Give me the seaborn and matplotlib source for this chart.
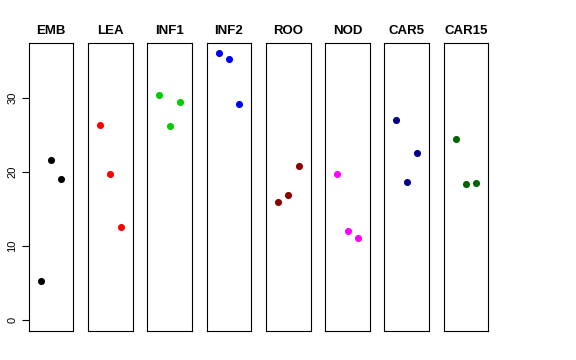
"""
Per-tissue expression strip panels (3 replicates each).
"""

import matplotlib
matplotlib.use("Agg")
import matplotlib.pyplot as plt
import seaborn as sns
import pandas as pd

# Data
tissues = ["EMB", "LEA", "INF1", "INF2", "ROO", "NOD", "CAR5", "CAR15"]
replicate = [1, 2, 3]
rep_values = [
    [5.35, 21.6, 19.0],    # EMB
    [26.4, 19.75, 12.6],   # LEA
    [30.4, 26.15, 29.5],   # INF1
    [36.0, 35.3, 29.15],   # INF2
    [15.9, 16.95, 20.8],   # ROO
    [19.75, 12.1, 11.15],  # NOD
    [27.05, 18.6, 22.5],   # CAR5
    [24.4, 18.4, 18.55],   # CAR15
]
colors = ["black", "red", "#00CD00", "blue", "#8B0000", "magenta", "#00008B", "#006400"]
y_ticks = [0, 10, 20, 30]

rows = []
for t, vals in zip(tissues, rep_values):
    for r, v in zip(replicate, vals):
        rows.append({"tissue": t, "rep": r, "value": v})
df = pd.DataFrame(rows)

sns.set_style("white")
plt.rcParams["font.family"] = ["Liberation Sans", "DejaVu Sans"]
plt.rcParams["text.color"] = "black"
plt.rcParams["ytick.color"] = "black"
plt.rcParams["ytick.labelcolor"] = "black"

fig = plt.figure(figsize=(5.76, 3.6), dpi=100)

# R style 4% axis extension
x_lo, x_hi = 0, 4
y_lo, y_hi = 0, max(max(v) for v in rep_values)
xpad = (x_hi - x_lo) * 0.04
ypad = (y_hi - y_lo) * 0.04

W, H = 576, 360
for i, (t, col) in enumerate(zip(tissues, colors)):
    left = 28.7 + i * 59.3
    ax = fig.add_axes([left / W, 29 / H, 44.6 / W, 288.3 / H])
    sub = df[df["tissue"] == t]
    sns.scatterplot(data=sub, x="rep", y="value", ax=ax, color=col,
                    s=26, linewidth=0, legend=False)
    ax.set_xlim(x_lo - xpad, x_hi + xpad)
    ax.set_ylim(y_lo - ypad, y_hi + ypad)
    ax.set_xticks([])
    ax.set_xlabel("")
    ax.set_ylabel("")
    ax.set_title(t, fontsize=9.5, fontweight="bold", pad=6, color="black")
    for sp in ax.spines.values():
        sp.set_visible(True)
        sp.set_color("black")
        sp.set_linewidth(0.8)
    if i == 0:
        ax.set_yticks(y_ticks)
        ax.set_yticklabels([str(v) for v in y_ticks], rotation=90,
                           va="center", fontsize=8)
        ax.tick_params(axis="y", left=True, length=5, width=0.8, pad=3,
                       colors="black")
    else:
        ax.set_yticks([])

plt.savefig("out.png", dpi=100)
plt.close()
